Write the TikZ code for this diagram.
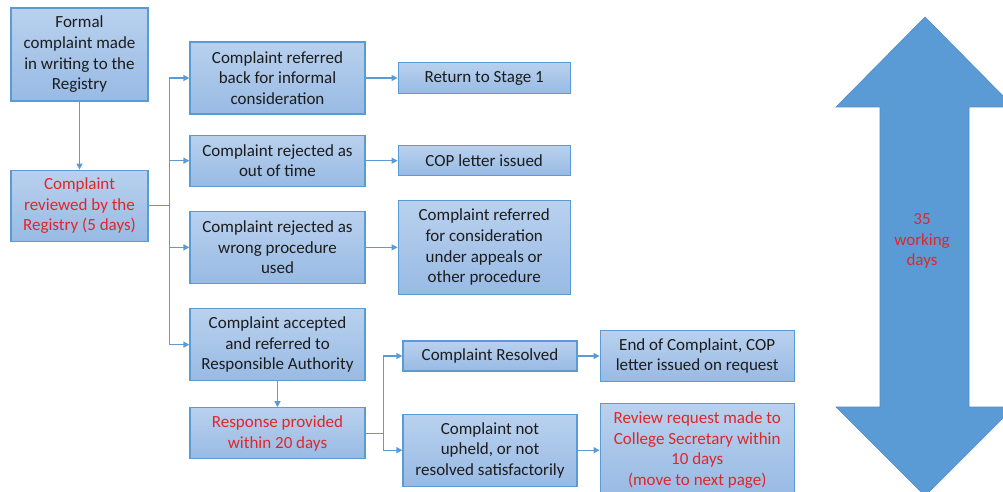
\documentclass[tikz,border=0pt]{standalone}
\usepackage{fontspec}
\setmainfont{Carlito}
\usetikzlibrary{arrows.meta,positioning,calc}
\definecolor{boxline}{HTML}{5B9BD5}
\definecolor{boxtop}{HTML}{B9D1EE}
\definecolor{boxbot}{HTML}{98BAE4}
\definecolor{flowline}{HTML}{5B9BD5}
\definecolor{redtext}{HTML}{E0262A}
\definecolor{darktext}{HTML}{1C1C1C}
\definecolor{bigarrow}{HTML}{5B9BD5}
\definecolor{bigedge}{HTML}{4F8CC9}
\tikzset{
  card/.style={draw=boxline, line width=1.2pt, top color=boxtop, bottom color=boxbot,
               align=center, font=\fontsize{17}{20.7}\selectfont, text=darktext,
               inner sep=2pt},
  leftcard/.style={card, minimum width=137pt},
  midcard/.style={card, minimum width=175pt},
  outcard/.style={card, minimum width=172pt},
  lowcard/.style={card, minimum width=174pt},
  endcard/.style={card, minimum width=194pt},
  timed/.style={text=redtext},
  flow/.style={-{Triangle[length=6pt,width=6pt]}, line width=1.3pt, draw=flowline},
  spanlbl/.style={align=center, font=\fontsize{17}{20.7}\selectfont, text=redtext}
}
\begin{document}
\begin{tikzpicture}[x=1pt, y=-1pt]
  \useasboundingbox (0,0) rectangle (1003,492);

  % registry stage
  \node[leftcard, minimum height=93pt] (formal) at (79.5,54.5)
    {Formal\\complaint made\\in writing to the\\Registry};
  \node[leftcard, timed, minimum height=71pt, below=68pt of formal] (review)
    {Complaint\\reviewed by the\\Registry (5 days)};

  % outcomes of review
  \node[midcard, minimum height=72pt] (backinf) at (277.5,78)
    {Complaint referred\\back for informal\\consideration};
  \node[midcard, minimum height=51pt, below=20pt of backinf] (late)
    {Complaint rejected as\\out of time};
  \node[midcard, minimum height=72pt, below=24pt of late] (wrongproc)
    {Complaint rejected as\\wrong procedure\\used};
  \node[midcard, minimum height=72pt, below=24pt of wrongproc] (accepted)
    {Complaint accepted\\and referred to\\Responsible Authority};
  \node[midcard, timed, minimum height=51pt, below=26pt of accepted] (response)
    {Response provided\\within 20 days};

  \node[outcard, minimum height=31pt, right=32pt of backinf] (stage1) {Return to Stage 1};
  \node[outcard, minimum height=30pt, right=32pt of late] (copletter) {COP letter issued};
  \node[outcard, minimum height=94pt, right=32pt of wrongproc] (appeals)
    {Complaint referred\\for consideration\\under appeals or\\other procedure};

  % after the response
  \node[lowcard, minimum height=30pt] (resolved) at (490,356) {Complaint Resolved};
  \node[lowcard, minimum height=72pt, below=42pt of resolved] (notupheld)
    {Complaint not\\upheld, or not\\resolved satisfactorily};
  \node[endcard, minimum height=51pt, right=22pt of resolved] (endcomp)
    {End of Complaint, COP\\letter issued on request};
  \node[endcard, timed, minimum height=93pt, right=22pt of notupheld] (secretary)
    {Review request made to\\College Secretary within\\10 days\\(move to next page)};

  \draw[flow] (formal) -- (review);
  \coordinate[right=21pt of review.east] (fork);
  \draw[flow] (review.east) -- (fork) |- (backinf.west);
  \draw[flow] (fork) |- (late.west);
  \draw[flow] (fork) |- (wrongproc.west);
  \draw[flow] (fork) |- (accepted.west);
  \draw[flow] (backinf.east) -- (backinf.east -| stage1.west);
  \draw[flow] (late.east) -- (late.east -| copletter.west);
  \draw[flow] (wrongproc) -- (appeals);
  \draw[flow] (accepted) -- (response);
  \coordinate[right=18pt of response.east] (fork2);
  \draw[flow] (response.east) -- (fork2) |- (resolved.west);
  \draw[flow] (fork2) |- (notupheld.west);
  \draw[flow] (resolved.east) -- (resolved.east -| endcomp.west);
  \draw[flow] (notupheld) -- (secretary);

  % time span
  \filldraw[fill=bigarrow, draw=bigedge, line width=.6pt]
    (925,17) -- (1014,107) -- (969,107) -- (969,407) -- (1014,407) -- (925,496)
    -- (836,407) -- (880,407) -- (880,107) -- (836,107) -- cycle;
  \node[spanlbl] (span) at (922,241) {35\\working\\days};
\end{tikzpicture}
\end{document}
